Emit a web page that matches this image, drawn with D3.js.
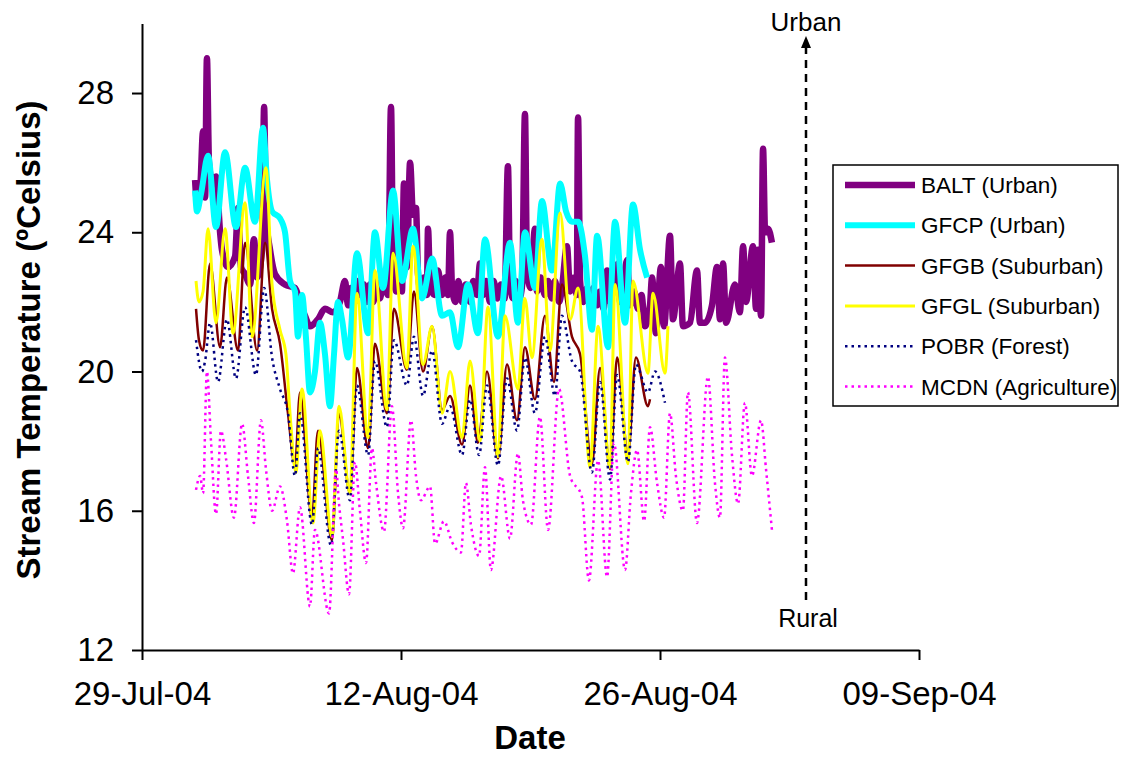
<!DOCTYPE html>
<html>
<head>
<meta charset="utf-8">
<script src="https://cdn.jsdelivr.net/npm/d3@7"></script>
<style>
body { margin: 0; background: #fff; }
text { font-family: "Liberation Sans", Arial, sans-serif; fill: #000; }
</style>
</head>
<body>
<svg id="chart" width="1123" height="759"></svg>
<script>
// [days since 29-Jul-04, stream temperature ºC]
const baltData = [[2.87,25.5],[2.97,24.9],[3.14,25.2],[3.30,26.9],[3.41,25.0],[3.51,29.0],[3.62,26.0],[3.78,25.5],[4.00,25.6],[4.22,24.0],[4.32,23.5],[4.65,23.0],[5.03,23.3],[5.19,24.7],[5.35,23.0],[5.57,22.8],[5.84,22.5],[6.05,23.8],[6.22,22.7],[6.49,23.5],[6.60,27.6],[6.70,24.5],[6.92,23.5],[7.19,22.8],[7.73,22.5],[8.27,22.4],[8.54,22.0],[8.81,21.6],[9.08,21.3],[9.51,21.5],[9.89,21.8],[10.32,21.7],[10.70,22.0],[10.97,22.6],[11.14,21.9],[11.30,22.4],[11.51,22.0],[11.65,22.6],[11.78,22.2],[12.00,22.5],[12.15,22.0],[12.32,22.5],[12.50,22.0],[12.70,22.6],[12.86,22.1],[13.05,22.6],[13.30,22.2],[13.46,27.6],[13.57,23.0],[13.75,22.3],[13.95,22.8],[14.05,22.3],[14.16,25.4],[14.32,23.0],[14.49,26.0],[14.65,24.5],[14.81,24.7],[14.92,22.8],[15.08,22.3],[15.24,22.7],[15.40,22.2],[15.46,24.1],[15.57,22.5],[15.80,22.2],[16.00,22.9],[16.22,22.2],[16.40,22.7],[16.54,22.2],[16.65,24.0],[16.76,22.4],[16.95,22.0],[17.10,22.6],[17.30,22.0],[17.50,22.5],[17.73,22.0],[17.90,22.6],[18.11,22.2],[18.27,23.1],[18.43,22.2],[18.60,22.6],[18.81,22.0],[19.00,22.6],[19.20,22.1],[19.40,22.5],[19.60,22.1],[19.78,25.9],[19.89,22.6],[20.05,22.1],[20.20,22.6],[20.40,22.1],[20.55,22.5],[20.70,27.4],[20.81,23.0],[21.00,22.4],[21.24,24.1],[21.35,22.3],[21.55,22.7],[21.78,22.2],[21.95,22.6],[22.15,22.1],[22.32,22.6],[22.55,22.0],[22.70,22.4],[22.97,23.6],[23.14,22.3],[23.35,22.7],[23.50,22.2],[23.57,27.3],[23.68,22.6],[23.85,22.0],[24.05,22.4],[24.22,21.9],[24.40,22.4],[24.60,21.9],[24.76,22.3],[24.95,21.8],[25.14,22.9],[25.30,22.0],[25.50,22.5],[25.73,23.1],[25.84,22.0],[26.00,22.4],[26.22,23.2],[26.38,21.9],[26.60,22.3],[26.81,21.8],[27.00,22.2],[27.19,21.3],[27.46,21.9],[27.57,22.7],[27.78,21.1],[28.05,23.0],[28.22,21.3],[28.54,23.9],[28.70,21.5],[29.08,23.1],[29.24,21.3],[29.62,21.4],[30.00,22.9],[30.16,21.4],[30.43,21.4],[30.81,21.9],[31.08,23.0],[31.24,21.5],[31.41,23.1],[31.57,21.4],[32.05,22.5],[32.32,21.7],[32.49,23.6],[32.65,22.0],[33.03,23.6],[33.19,21.8],[33.30,23.5],[33.46,21.6],[33.57,26.4],[33.68,24.0],[33.84,24.1],[34.05,23.7]];

const gfcpData = [[2.87,25.2],[2.97,24.6],[3.19,25.1],[3.57,26.2],[4.00,24.15],[4.49,26.3],[5.08,24.15],[5.57,25.85],[6.11,24.3],[6.54,27.0],[6.76,25.5],[7.03,24.6],[7.46,24.4],[7.73,24.0],[8.00,22.6],[8.27,22.3],[8.43,21.0],[8.65,22.2],[8.86,21.0],[9.08,19.4],[9.35,20.0],[9.62,21.4],[9.89,20.5],[10.16,19.0],[10.38,20.5],[10.59,22.0],[10.81,21.5],[11.14,20.4],[11.62,23.4],[12.22,21.1],[12.59,24.0],[13.03,22.4],[13.57,25.2],[14.05,22.6],[14.65,24.1],[15.14,22.1],[15.68,23.25],[16.22,21.6],[16.65,21.7],[17.08,20.7],[17.62,22.5],[18.16,21.1],[18.54,23.8],[19.24,21.0],[19.89,23.7],[20.32,21.4],[20.70,24.0],[21.24,22.4],[21.62,24.9],[22.16,22.9],[22.60,25.4],[22.92,24.6],[23.24,24.3],[23.57,24.3],[23.95,23.3],[24.32,21.2],[24.60,23.9],[25.19,20.7],[25.57,24.3],[26.11,21.4],[26.54,24.8],[26.92,23.5],[27.30,22.7]];

const gfgbData = [[2.92,21.8],[3.08,20.9],[3.30,20.6],[3.68,23.1],[4.22,20.7],[4.59,22.7],[5.19,20.6],[5.57,23.7],[6.22,20.6],[6.65,23.7],[7.03,21.8],[7.46,20.8],[7.89,18.8],[8.27,17.3],[8.54,19.4],[9.19,15.8],[9.51,18.3],[10.27,15.15],[10.65,18.8],[11.24,16.5],[11.62,20.1],[12.22,17.8],[12.59,20.8],[13.24,18.8],[13.62,21.8],[14.32,20.05],[14.70,22.3],[15.19,20.0],[15.68,21.3],[16.22,18.9],[16.65,19.3],[17.30,17.9],[17.73,19.6],[18.16,17.95],[18.65,20.0],[19.24,17.5],[19.73,20.2],[20.27,18.6],[20.70,20.7],[21.24,19.2],[21.78,21.6],[22.27,19.7],[22.70,22.5],[23.24,21.0],[23.68,20.5],[24.32,17.35],[24.76,20.1],[25.30,17.2],[25.68,20.4],[26.27,17.65],[26.70,20.4],[27.35,19.0],[27.46,19.2]];

const gfglData = [[2.92,22.6],[3.08,22.0],[3.30,22.3],[3.57,24.1],[4.00,21.4],[4.49,24.1],[4.92,21.1],[5.57,24.85],[5.95,21.0],[6.70,25.85],[7.03,22.5],[7.46,21.2],[7.78,20.5],[8.00,18.8],[8.32,17.1],[8.65,19.5],[9.24,15.65],[9.62,18.3],[10.27,15.25],[10.65,19.0],[11.24,16.5],[11.62,22.25],[12.22,18.1],[12.59,22.9],[13.24,18.9],[13.57,23.4],[14.32,20.1],[14.65,23.6],[15.19,20.2],[15.68,21.3],[16.22,18.8],[16.65,20.0],[17.30,18.1],[17.73,20.3],[18.27,18.0],[18.70,21.85],[19.24,17.55],[19.62,21.6],[20.32,19.5],[20.70,22.1],[21.08,20.4],[21.62,23.8],[22.05,20.6],[22.60,24.55],[23.14,21.5],[23.57,22.4],[24.22,17.25],[24.65,21.3],[25.30,17.25],[25.57,22.5],[26.27,17.35],[26.54,22.6],[27.35,19.95],[27.62,22.25],[28.27,19.95],[28.43,21.3]];

const pobrData = [[2.92,20.9],[3.24,20.0],[3.41,20.3],[3.68,21.4],[4.11,19.7],[4.59,21.5],[5.08,19.8],[5.57,21.85],[6.16,19.9],[6.60,22.4],[7.03,20.4],[7.46,19.5],[7.89,18.8],[8.27,17.0],[8.54,18.8],[9.19,15.6],[9.51,17.8],[10.22,15.0],[10.65,18.3],[11.24,16.3],[11.62,19.6],[12.22,17.6],[12.59,20.3],[13.24,18.4],[13.62,20.9],[14.32,19.6],[14.70,21.0],[15.19,19.3],[15.68,20.6],[16.22,18.5],[16.65,19.0],[17.30,17.6],[17.73,19.2],[18.22,17.6],[18.65,19.6],[19.24,17.3],[19.73,19.8],[20.27,18.3],[20.70,20.4],[21.24,18.8],[21.78,21.0],[22.32,19.3],[22.70,21.6],[23.24,20.3],[23.68,20.0],[24.32,17.1],[24.76,19.7],[25.30,16.9],[25.68,19.9],[26.27,17.4],[26.70,20.2],[27.35,19.4],[27.73,20.0],[28.27,19.1]];

const mcdnData = [[2.92,16.6],[3.14,17.0],[3.30,16.5],[3.51,20.0],[3.73,18.0],[4.00,15.9],[4.27,18.3],[4.54,17.5],[4.97,15.8],[5.41,18.5],[5.73,17.0],[6.05,15.65],[6.43,18.6],[6.70,17.2],[7.03,16.0],[7.46,16.7],[7.84,15.7],[8.16,14.2],[8.54,16.1],[9.08,13.25],[9.35,15.45],[10.11,13.05],[10.49,17.2],[10.65,16.2],[10.86,15.2],[11.19,13.6],[11.51,17.4],[11.78,16.0],[12.11,14.5],[12.43,17.8],[12.65,16.8],[13.08,15.4],[13.51,19.0],[13.84,16.5],[14.11,15.5],[14.54,18.6],[14.81,17.0],[15.08,16.3],[15.57,16.7],[15.84,15.05],[16.32,15.7],[16.76,15.1],[17.24,14.8],[17.51,16.8],[17.78,15.6],[18.22,14.7],[18.54,17.25],[18.86,14.3],[19.41,17.0],[19.89,15.2],[20.32,17.65],[20.59,16.3],[21.03,15.6],[21.51,18.7],[21.95,15.45],[22.54,19.5],[23.14,17.0],[23.78,16.4],[24.16,14.0],[24.65,17.45],[25.14,14.1],[25.51,17.95],[26.11,14.3],[26.43,16.5],[26.76,17.75],[27.14,15.7],[27.46,18.4],[27.84,16.8],[28.22,15.8],[28.54,18.8],[28.86,17.0],[29.24,16.0],[29.51,19.4],[30.00,15.65],[30.59,19.85],[30.97,16.8],[31.24,15.8],[31.51,20.4],[31.89,17.6],[32.22,16.2],[32.59,19.1],[32.97,17.0],[33.46,18.6],[33.73,17.2],[34.05,15.45]];

const seriesLabels = ["BALT (Urban)", "GFCP (Urban)", "GFGB (Suburban)", "GFGL (Suburban)", "POBR (Forest)", "MCDN (Agriculture)"];
const xTickDates = ["2004-07-29", "2004-08-12", "2004-08-26", "2004-09-09"];
const yTicks = [12, 16, 20, 24, 28];
const yDomain = [12, 30];

const series = [
  { label: seriesLabels[0], data: baltData, color: "#800080", width: 6.5 },
  { label: seriesLabels[1], data: gfcpData, color: "#00FFFF", width: 6 },
  { label: seriesLabels[2], data: gfgbData, color: "#800000", width: 2.5 },
  { label: seriesLabels[3], data: gfglData, color: "#FFFF00", width: 3 },
  { label: seriesLabels[4], data: pobrData, color: "#000080", width: 2.5, dash: "2.5,4" },
  { label: seriesLabels[5], data: mcdnData, color: "#FF00FF", width: 2.5, dash: "2.5,4" }
];

const svg = d3.select("#chart");
const parseDay = d3.timeParse("%Y-%m-%d");
const start = parseDay(xTickDates[0]);
const end = parseDay(xTickDates[xTickDates.length - 1]);
const toDate = d => d3.timeMinute.offset(start, Math.round(d * 1440));

const x = d3.scaleTime().domain([start, end]).range([142, 919]);
const y = d3.scaleLinear().domain(yDomain).range([650, 23.4]);

// data lines
const line = d3.line()
  .curve(d3.curveMonotoneX)
  .x(d => x(toDate(d[0])))
  .y(d => y(d[1]));

svg.append("g").selectAll("path")
  .data(series)
  .enter()
  .append("path")
  .attr("d", d => line(d.data))
  .attr("fill", "none")
  .attr("stroke", d => d.color)
  .attr("stroke-width", d => d.width)
  .attr("stroke-dasharray", d => d.dash || null)
  .attr("stroke-linejoin", "round");

// axes
const xAxis = d3.axisBottom(x)
  .tickValues(xTickDates.map(parseDay))
  .tickFormat(d3.timeFormat("%d-%b-%y"))
  .tickSize(10)
  .tickSizeOuter(0)
  .tickPadding(22);

const yAxis = d3.axisLeft(y)
  .tickValues(yTicks)
  .tickSize(10)
  .tickSizeOuter(0)
  .tickPadding(18);

const gx = svg.append("g").attr("transform", "translate(0,650)").call(xAxis);
const gy = svg.append("g").attr("transform", "translate(142,0)").call(yAxis);

[gx, gy].forEach(g => {
  g.select(".domain").attr("stroke", "#000").attr("stroke-width", 2);
  g.selectAll(".tick line").attr("stroke", "#000").attr("stroke-width", 2);
  g.selectAll(".tick text").attr("font-size", 33).attr("font-family", "Liberation Sans, Arial, sans-serif");
});

// axis titles
svg.append("text")
  .attr("x", 530)
  .attr("y", 749)
  .attr("text-anchor", "middle")
  .attr("font-size", 33)
  .attr("font-weight", "bold")
  .text("Date");

svg.append("text")
  .attr("transform", "translate(40,340) rotate(-90)")
  .attr("text-anchor", "middle")
  .attr("font-size", 33)
  .attr("font-weight", "bold")
  .text("Stream Temperature (ºCelsius)");

// urban - rural arrow
svg.append("line")
  .attr("x1", 806).attr("x2", 806)
  .attr("y1", 600).attr("y2", 46)
  .attr("stroke", "#000")
  .attr("stroke-width", 2.5)
  .attr("stroke-dasharray", "8,6");

svg.append("path")
  .attr("d", "M806,36 L801,48 L811,48 Z")
  .attr("fill", "#000");

svg.append("text")
  .attr("x", 806).attr("y", 31)
  .attr("text-anchor", "middle")
  .attr("font-size", 26)
  .text("Urban");

svg.append("text")
  .attr("x", 808).attr("y", 627)
  .attr("text-anchor", "middle")
  .attr("font-size", 25)
  .text("Rural");

// legend
const legend = svg.append("g").attr("transform", "translate(833,165)");
legend.append("rect")
  .attr("width", 285).attr("height", 241)
  .attr("fill", "#fff")
  .attr("stroke", "#000")
  .attr("stroke-width", 1.5);

const item = legend.selectAll("g.item")
  .data(series)
  .enter()
  .append("g")
  .attr("class", "item")
  .attr("transform", (d, i) => `translate(0,${20 + i * 40.3})`);

item.append("line")
  .attr("x1", 12).attr("x2", 82)
  .attr("stroke", d => d.color)
  .attr("stroke-width", d => d.width)
  .attr("stroke-dasharray", d => d.dash || null);

item.append("text")
  .attr("x", 88)
  .attr("dy", "0.36em")
  .attr("font-size", 22.5)
  .text(d => d.label);
</script>
</body>
</html>
